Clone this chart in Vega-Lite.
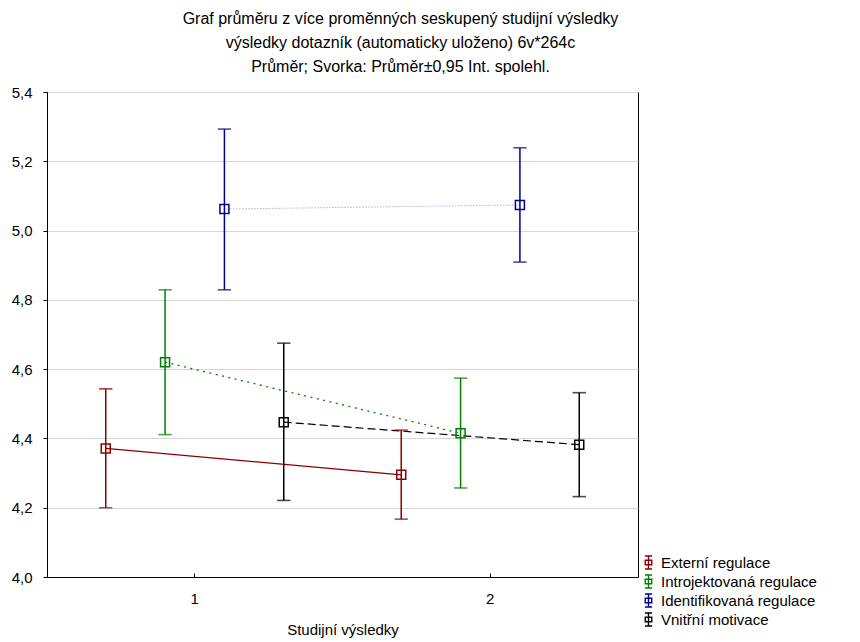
{
  "$schema": "https://vega.github.io/schema/vega-lite/v6.json",
  "autosize": "none",
  "width": 591,
  "height": 485,
  "padding": {"left": 47, "top": 92, "right": 222, "bottom": 65},
  "background": "white",
  "config": {
    "font": "Liberation Sans",
    "view": {"stroke": "black", "strokeWidth": 1},
    "axis": {"labelColor": "black", "titleColor": "black", "labelFontSize": 15, "titleFontSize": 15, "titleFontWeight": "normal", "domainColor": "black", "tickColor": "black", "gridColor": "#d6d6d6", "gridWidth": 1}
  },
  "title": {
    "text": ["Graf průměru z více proměnných seskupený studijní výsledky", "výsledky dotazník (automaticky uloženo) 6v*264c", "Průměr; Svorka: Průměr±0,95 Int. spolehl."],
    "fontSize": 16,
    "fontWeight": "normal",
    "lineHeight": 24,
    "anchor": "middle",
    "dx": 58,
    "offset": 10,
    "color": "black"
  },
  "data": {
    "values": [
      {"vysledky": "1", "skupina": "Externí regulace", "mean": 4.371, "low": 4.200, "high": 4.543},
      {"vysledky": "2", "skupina": "Externí regulace", "mean": 4.295, "low": 4.167, "high": 4.424},
      {"vysledky": "1", "skupina": "Introjektovaná regulace", "mean": 4.620, "low": 4.411, "high": 4.829},
      {"vysledky": "2", "skupina": "Introjektovaná regulace", "mean": 4.415, "low": 4.257, "high": 4.574},
      {"vysledky": "1", "skupina": "Identifikovaná regulace", "mean": 5.062, "low": 4.829, "high": 5.293},
      {"vysledky": "2", "skupina": "Identifikovaná regulace", "mean": 5.074, "low": 4.909, "high": 5.239},
      {"vysledky": "1", "skupina": "Vnitřní motivace", "mean": 4.447, "low": 4.221, "high": 4.675},
      {"vysledky": "2", "skupina": "Vnitřní motivace", "mean": 4.382, "low": 4.232, "high": 4.532}
    ]
  },
  "encoding": {
    "x": {
      "field": "vysledky",
      "type": "nominal",
      "scale": {"type": "band", "paddingInner": 0, "paddingOuter": 0},
      "axis": {"title": "Studijní výsledky", "labelAngle": 0, "grid": false, "tickSize": -4, "labelPadding": 18, "titlePadding": 16, "domain": true}
    },
    "xOffset": {
      "field": "skupina",
      "type": "nominal",
      "sort": ["Externí regulace", "Introjektovaná regulace", "Identifikovaná regulace", "Vnitřní motivace"],
      "scale": {"domain": ["Externí regulace", "Introjektovaná regulace", "Identifikovaná regulace", "Vnitřní motivace"], "paddingInner": 0, "paddingOuter": 0.49}
    },
    "y": {"field": "mean", "type": "quantitative", "scale": {"domain": [4.0, 5.4], "nice": false, "zero": false},
      "axis": {"title": null, "values": [4.0, 4.2, 4.4, 4.6, 4.8, 5.0, 5.2, 5.4], "labelExpr": "replace(format(datum.value, '.1f'), '.', ',')", "tickSize": 4, "labelPadding": 11, "grid": true}},
    "color": {
      "field": "skupina",
      "type": "nominal",
      "sort": ["Externí regulace", "Introjektovaná regulace", "Identifikovaná regulace", "Vnitřní motivace"],
      "scale": {
        "domain": ["Externí regulace", "Introjektovaná regulace", "Identifikovaná regulace", "Vnitřní motivace"],
        "range": ["#8b0000", "#008000", "#00008b", "#000000"]
      },
      "legend": {
        "title": null,
        "orient": "none",
        "legendX": 594,
        "legendY": 463,
        "padding": 0,
        "labelFontSize": 15,
        "labelColor": "black",
        "labelOffset": 5,
        "rowPadding": 0,
        "symbolType": "M-0.55,-1H0.55M0,-1V1M-0.55,1H0.55M-0.5,-0.35H0.5V0.35H-0.5Z",
        "symbolSize": 169,
        "symbolStrokeWidth": 1.4,
        "symbolOpacity": 1,
        "symbolDash": [1, 0],
        "symbolFillColor": "transparent"
      }
    }
  },
  "layer": [
    {
      "transform": [{"filter": "datum.skupina === 'Externí regulace'"}],
      "mark": {"type": "line", "strokeWidth": 1.3}
    },
    {
      "transform": [{"filter": "datum.skupina === 'Introjektovaná regulace'"}],
      "mark": {"type": "line", "strokeWidth": 1.3, "strokeDash": [2, 4.5]}
    },
    {
      "transform": [{"filter": "datum.skupina === 'Identifikovaná regulace'"}],
      "mark": {"type": "line", "strokeWidth": 1, "strokeDash": [1, 2], "strokeOpacity": 0.45}
    },
    {
      "transform": [{"filter": "datum.skupina === 'Vnitřní motivace'"}],
      "mark": {"type": "line", "strokeWidth": 1.2, "strokeDash": [8, 4]}
    },
    {
      "mark": {"type": "rule", "strokeWidth": 1.5},
      "encoding": {
        "y": {"field": "low", "type": "quantitative"},
        "y2": {"field": "high"}
      }
    },
    {
      "mark": {"type": "tick", "size": 12, "thickness": 0.3, "filled": false, "strokeWidth": 1.3, "orient": "horizontal"},
      "encoding": {
        "y": {"field": "low", "type": "quantitative"}
      }
    },
    {
      "mark": {"type": "tick", "size": 12, "thickness": 0.3, "filled": false, "strokeWidth": 1.3, "orient": "horizontal"},
      "encoding": {
        "y": {"field": "high", "type": "quantitative"}
      }
    },
    {
      "mark": {"type": "point", "shape": "square", "filled": false, "size": 81, "strokeWidth": 1.5, "opacity": 1}
    }
  ]
}
